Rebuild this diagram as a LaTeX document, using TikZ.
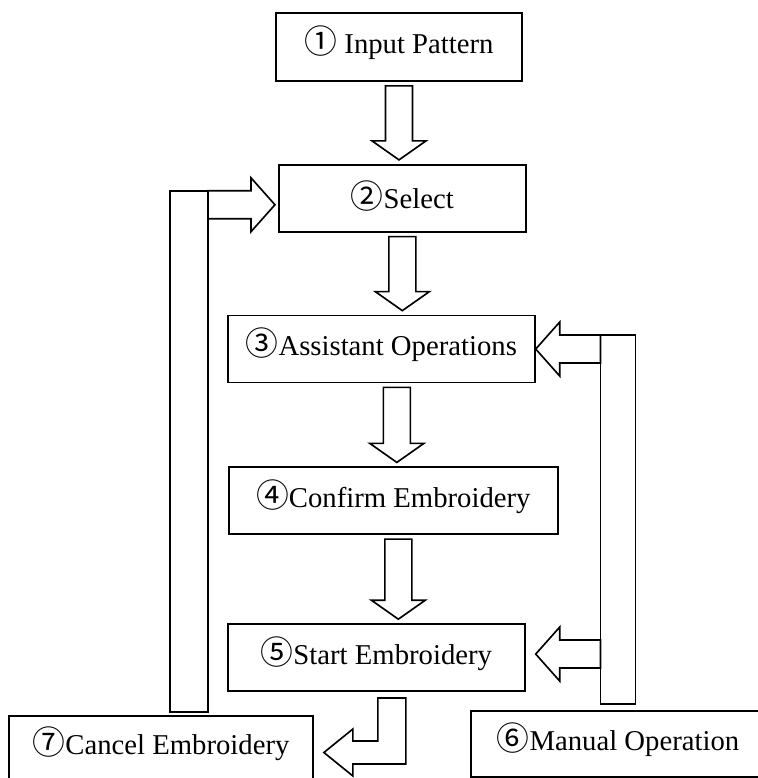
\documentclass[tikz,border=0pt]{standalone}
\usepackage{fontspec}
\setmainfont{Liberation Serif}
\newfontfamily\cjk{Noto Sans CJK SC}
\usepackage{tikz}
\usetikzlibrary{positioning, calc}

% circled step number
\newcommand{\stepno}[1]{\smash{\cjk\fontsize{28}{28}\selectfont #1}}

% hollow block arrows: (from) (to) offset gap
\newcommand{\blkdown}[3]{%
  \draw[blk] ($(#1)+(#3-13.5,4)$) -- ($(#1)+(#3+13.5,4)$)
    -- ($(#1 |- #2)+(#3+13.5,-23)$) -- ($(#1 |- #2)+(#3+27,-23)$)
    -- ($(#1 |- #2)+(#3,-4)$) -- ($(#1 |- #2)+(#3-27,-23)$)
    -- ($(#1 |- #2)+(#3-13.5,-23)$) -- cycle;}
\newcommand{\blkleft}[4]{%
  \draw[blk] ($(#2)+(#4,#3)$) -- ($(#2)+(#4+24,#3-27)$)
    -- ($(#2)+(#4+24,#3-14)$) -- ($(#1 |- #2)+(0,#3-14)$)
    -- ($(#1 |- #2)+(0,#3+14)$) -- ($(#2)+(#4+24,#3+14)$)
    -- ($(#2)+(#4+24,#3+27)$) -- cycle;}
\newcommand{\blkright}[4]{%
  \draw[blk] ($(#2)+(-#4,#3)$) -- ($(#2)+(-#4-24,#3-27)$)
    -- ($(#2)+(-#4-24,#3-14)$) -- ($(#1 |- #2)+(0,#3-14)$)
    -- ($(#1 |- #2)+(0,#3+14)$) -- ($(#2)+(-#4-24,#3+14)$)
    -- ($(#2)+(-#4-24,#3+27)$) -- cycle;}

\begin{document}
\begin{tikzpicture}[
    x=0.03cm, y=-0.03cm,
    node distance=2.46cm,
    box/.style={draw, line width=1.5pt, minimum height=2.01cm, inner sep=0pt,
                align=center, font=\fontsize{24.5}{28}\selectfont},
    blk/.style={draw, line width=1.4pt, fill=white, line join=miter},
]
    \useasboundingbox (0,0) rectangle (758,778);

    \node[box, minimum width=7.38cm, minimum height=2.04cm] (in) at (399,47) {\stepno{①} Input Pattern};
    \node[box, minimum width=7.41cm, below=of in, xshift=1mm] (sel) {\stepno{②}Select};
    \node[box, minimum width=9.21cm, below=of sel, xshift=-6.3mm] (ass) {\stepno{③}Assistant Operations};
    \node[box, minimum width=9.87cm, below=2.49cm of ass, xshift=3.6mm] (conf) {\stepno{④}Confirm Embroidery};
    \node[box, minimum width=8.91cm, below=2.64cm of conf, xshift=-5.1mm] (start) {\stepno{⑤}Start Embroidery};
    \node[box, minimum width=8.82cm, minimum height=1.98cm] (man) at (618,744) {\stepno{⑥}Manual Operation};
    \node[box, minimum width=9.12cm, minimum height=1.92cm] (canc) at (161,748) {\stepno{⑦}Cancel Embroidery};

    % main flow
    \blkdown{in.south}{sel.north}{0}
    \blkdown{sel.south}{ass.north}{0}
    \blkdown{ass.south}{conf.north}{15.5}
    \blkdown{conf.south}{start.north}{5}

    % manual operation feeds back
    \coordinate (rb1) at ($(ass.east -| man.north)+(-17.5,-14)$);
    \coordinate (rb2) at ($(man.north)+(17.5,-6)$);
    \draw[blk] (rb1) rectangle (rb2);
    \blkleft{rb1}{ass.east}{0}{0}
    \blkleft{rb1}{start.east}{-3.5}{10}

    % cancel goes back to select
    \coordinate (lb1) at ($(sel.west -| canc.north)+(9,-7.5)$);
    \coordinate (lb2) at ($(canc.north)+(47,-3)$);
    \draw[blk] (lb1) rectangle (lb2);
    \blkright{lb2}{sel.west}{6.5}{3}

    % start -> cancel
    \draw[blk] ($(start.south)+(1.5,6)$) -- ($(start.south)+(29.5,6)$)
        -- ($(start.south |- canc.east)+(29.5,16)$) -- ($(canc.east)+(39,16)$)
        -- ($(canc.east)+(39,28)$) -- ($(canc.east)+(10,4.5)$)
        -- ($(canc.east)+(39,-19)$) -- ($(canc.east)+(39,-7)$)
        -- ($(start.south |- canc.east)+(1.5,-7)$) -- cycle;
\end{tikzpicture}
\end{document}
